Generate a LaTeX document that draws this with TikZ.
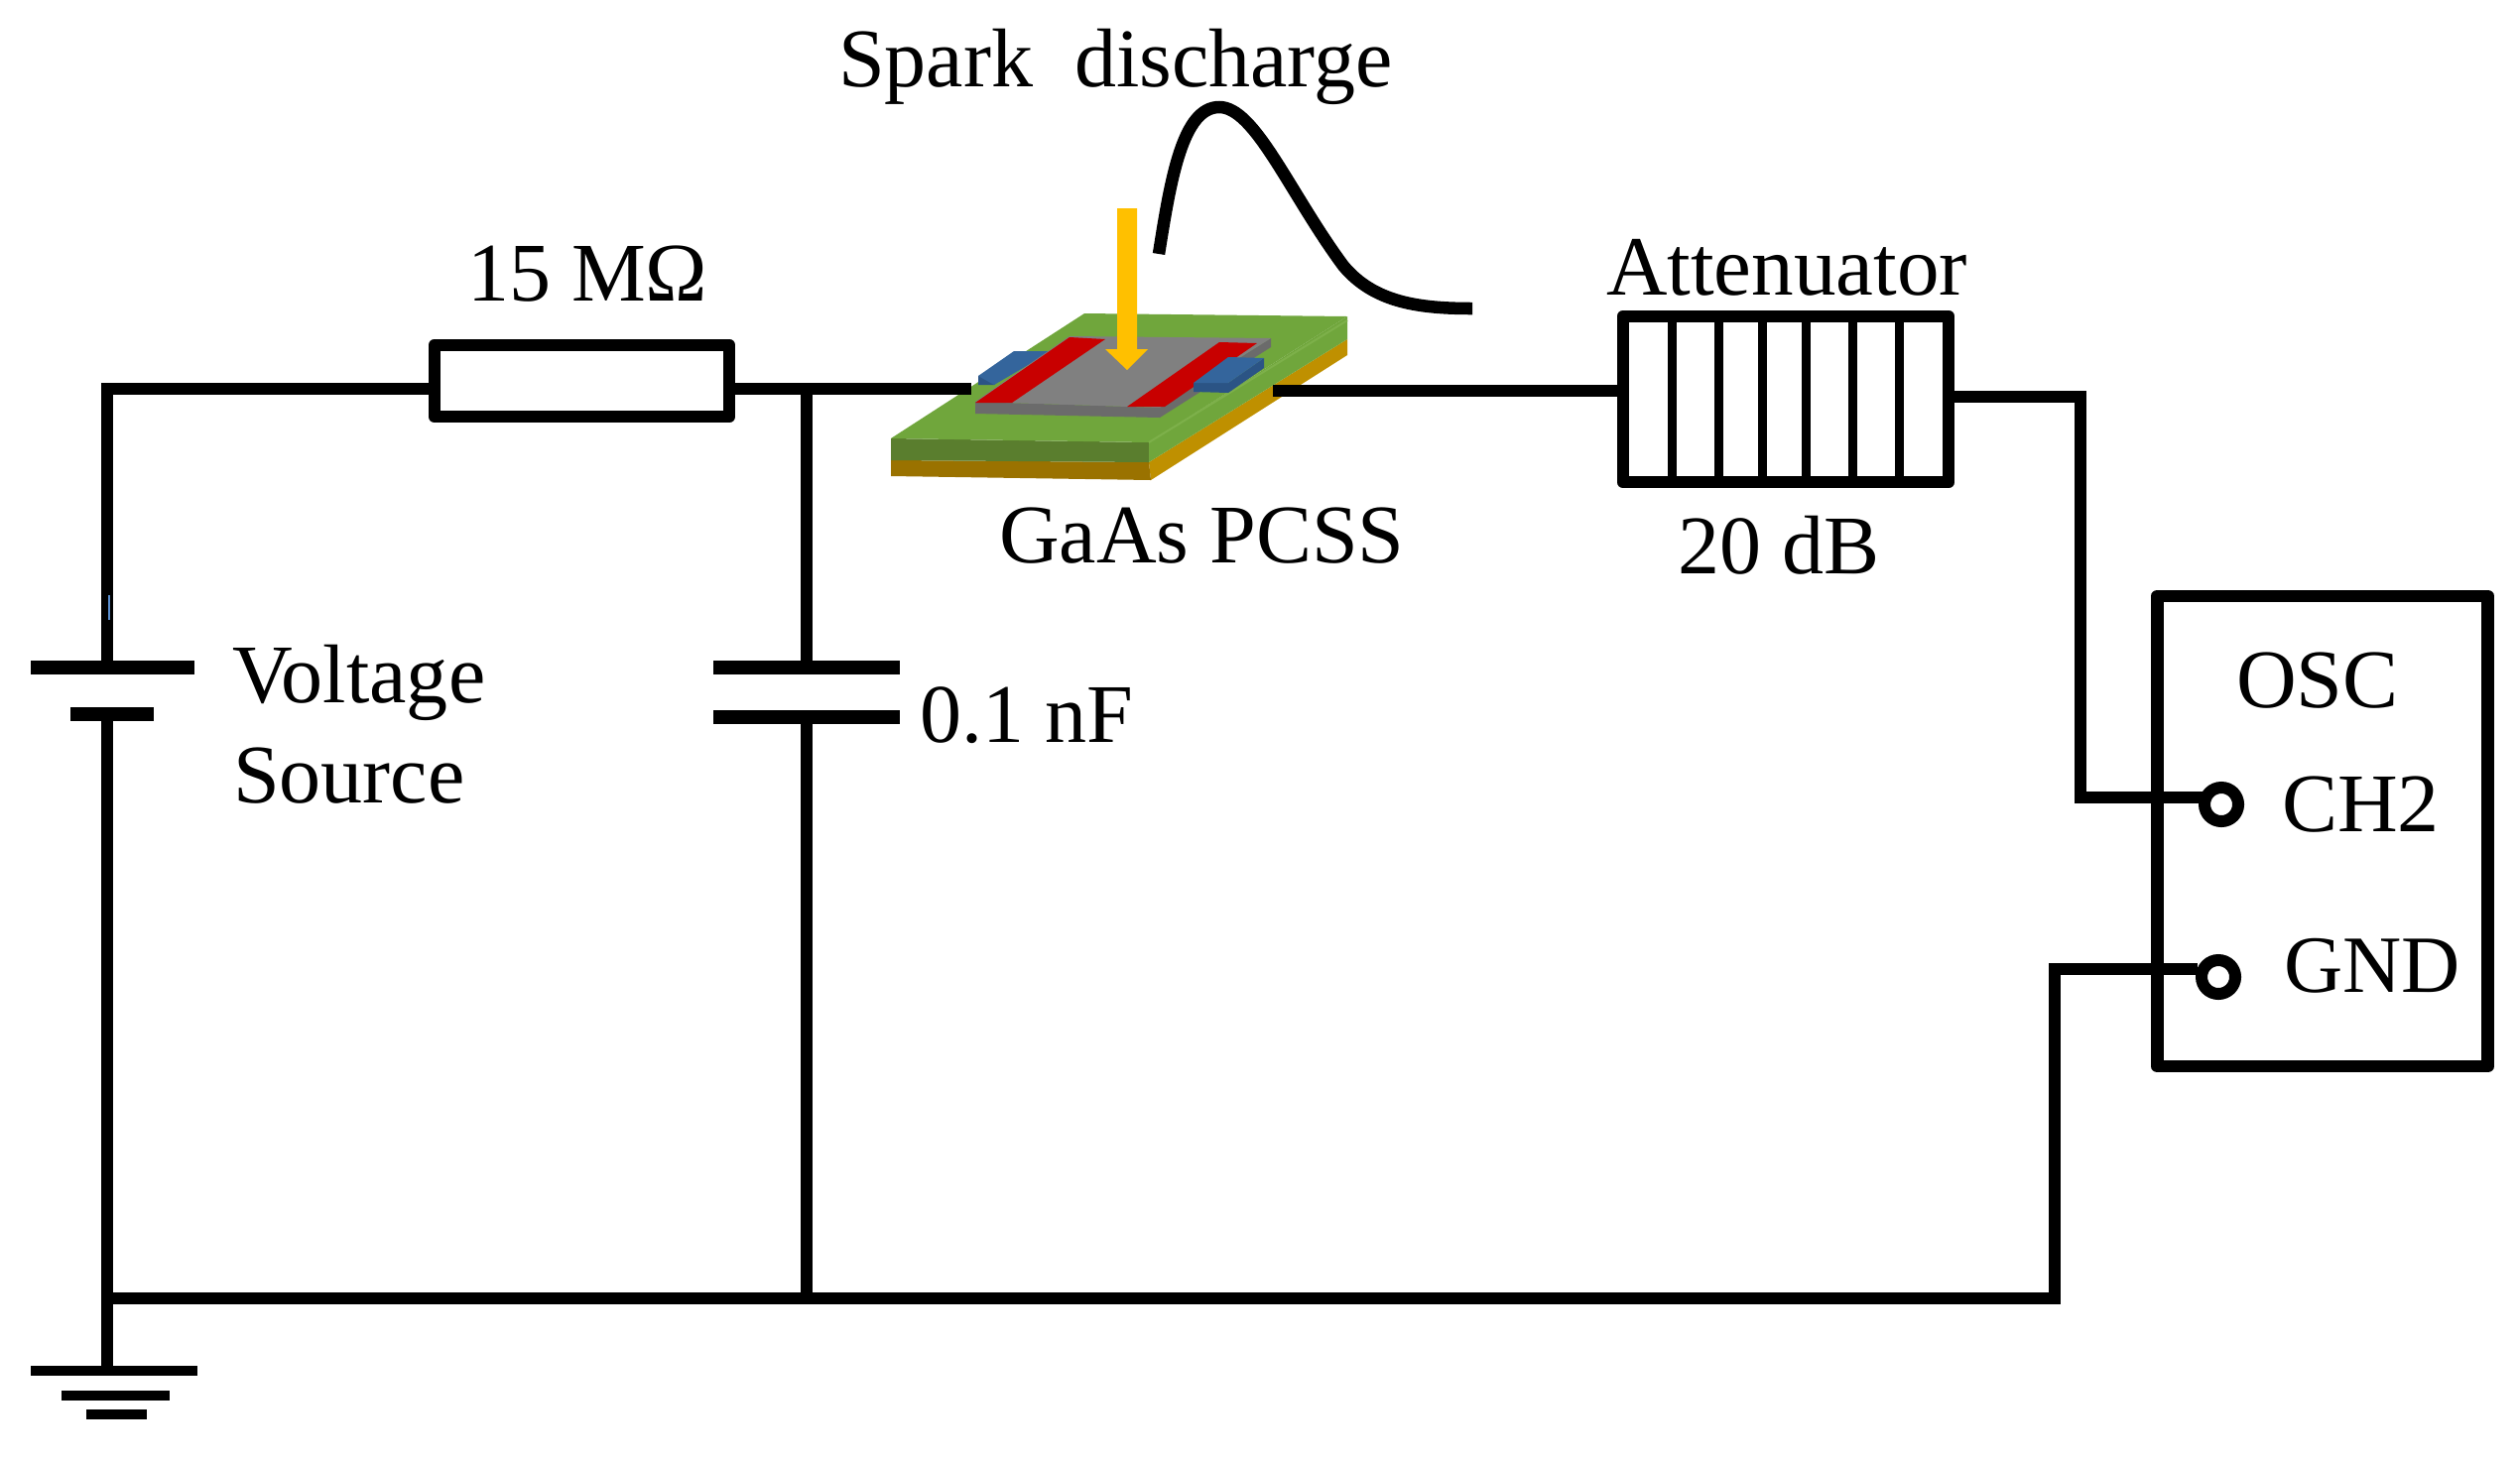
\documentclass[tikz,border=0pt]{standalone}
\usepackage{fontspec}
\setmainfont{Liberation Serif}
\begin{document}
\begin{tikzpicture}[x=0.01cm,y=-0.01cm,
  wire/.style={line width=0.125cm,black},
  plate/.style={line width=0.135cm,black},
  gplate/.style={line width=0.10cm,black},
  box/.style={draw=black,line width=0.125cm,line join=round,inner sep=0pt,outer sep=0pt,rectangle},
  divider/.style={line width=0.09cm,black},
  ring/.style={draw=black,line width=0.12cm,circle,inner sep=0pt,outer sep=0pt,minimum size=0.34cm,fill=white},
  lbl/.style={inner sep=0pt,outer sep=0pt,anchor=base west,font=\fontsize{23.9}{28}\selectfont}]
\useasboundingbox (0,0) rectangle (2540,1475);
\definecolor{ggreen}{HTML}{70A63C}
\definecolor{ggreenL}{HTML}{7DB04A}
\definecolor{ggreenD}{HTML}{5A7E2E}
\definecolor{ggold}{HTML}{BF9000}
\definecolor{ggoldD}{HTML}{9A7200}
\definecolor{ggray}{HTML}{808080}
\definecolor{ggrayD}{HTML}{6B6B6B}
\definecolor{gred}{HTML}{C80000}
\definecolor{gblue}{HTML}{34659C}
\definecolor{gblueD}{HTML}{2B5485}
\definecolor{gyell}{HTML}{FFC000}
\definecolor{gspeck}{HTML}{5B8FD0}

% PCSS chip
\fill[ggold] (1158,466) -- (1358,342) -- (1358,358) -- (1160,484) -- cycle;
\fill[ggoldD] (898,464) -- (1158,466) -- (1160,484) -- (898,480) -- cycle;
\fill[ggreenD] (898,442) -- (1158,446) -- (1158,466) -- (898,464) -- cycle;
\fill[ggreen] (1158,446) -- (1358,319) -- (1358,342) -- (1158,466) -- cycle;
\fill[ggreen] (1093,316) -- (1358,319) -- (1158,446) -- (898,442) -- cycle;
\draw[ggreenL,line width=0.02cm] (1158,446) -- (1358,323);
\fill[gblueD] (986,379) -- (986,388) -- (1002,388) -- (1022,370) -- cycle;
\fill[gblue] (1022,354) -- (1060,354) -- (1002,388) -- (986,379) -- cycle;
\fill[ggrayD] (983,405) -- (1169,411) -- (1281,341) -- (1281,350) -- (1169,421) -- (983,417) -- cycle;
\fill[ggray] (1078,339) -- (1281,341) -- (1169,411) -- (983,405) -- cycle;
\fill[gred] (1078,340) -- (1114,342) -- (1020,406) -- (983,406) -- cycle;
\fill[gred] (1229,345) -- (1267,346) -- (1174,410) -- (1136,410) -- cycle;
\fill[gblueD] (1203,386) -- (1203,395) -- (1238,396) -- (1274,371) -- (1274,361) -- (1238,386) -- cycle;
\fill[gblue] (1238,360) -- (1274,361) -- (1238,386) -- (1203,386) -- cycle;
\fill[gyell] (1126,210) -- (1146,210) -- (1146,352) -- (1157,352) -- (1136,373) -- (1114,352) -- (1126,352) -- cycle;

% pulse
\draw[wire] (1168,256) .. controls (1180,180) and (1192,108) .. (1229,108)
  .. controls (1265,108) and (1300,195) .. (1354,268)
  .. controls (1385,305) and (1430,311) .. (1484,311);

% anchors of the connectors
\coordinate (corner) at (108,392);
\coordinate (batTop) at (108,673);
\coordinate (batBot) at (108,720);
\coordinate (batTL) at (31,673);
\coordinate (batTR) at (196,673);
\coordinate (batBL) at (71,720);
\coordinate (batBR) at (155,720);
\coordinate (gndNode) at (108,1309);
\coordinate (gp1) at (108,1382);
\coordinate (gp1L) at (31,1382);
\coordinate (gp1R) at (199,1382);
\coordinate (gp2L) at (62,1407);
\coordinate (gp2R) at (171,1407);
\coordinate (gp3L) at (87,1426);
\coordinate (gp3R) at (148,1426);
\coordinate (jTop) at (813,392);
\coordinate (capTop) at (813,673);
\coordinate (capBot) at (813,723);
\coordinate (capTL) at (719,673);
\coordinate (capTR) at (907,673);
\coordinate (capBL) at (719,723);
\coordinate (capBR) at (907,723);
\coordinate (jBot) at (813,1309);
\coordinate (pcssL) at (979,392);
\coordinate (pcssR) at (1283,394);
\coordinate (attL) at (1635,394);
\coordinate (attR) at (1967,400);
\coordinate (bend1) at (2097,400);
\coordinate (bend2) at (2097,804);
\coordinate (bend3) at (2071,977);
\coordinate (bend4) at (2071,1309);

\node[box,minimum width=3.28cm,minimum height=1.67cm] (att) at (1800,402.5) {};
\node[box,minimum width=3.33cm,minimum height=4.74cm] (osc) at (2341,838) {};
\node[box,minimum width=2.97cm,minimum height=0.72cm] (res) at (586.5,384) {};

% wires
\draw[wire] (batTop) -- (corner) -- (res.west |- corner);
\draw[wire] (res.east |- jTop) -- (pcssL);
\draw[wire] (jTop) -- (capTop);
\draw[wire] (capBot) -- (jBot);
\draw[wire] (batBot) -- (gp1);
\draw[wire] (gndNode) -- (bend4) -- (bend3) -- (2215,977);
\draw[wire] (pcssR) -- (attL);
\draw[wire] (attR) -- (bend1) -- (bend2) -- (2220,804);

\node[ring] (ch2) at (2239,811) {};
\node[ring] (gnd) at (2236,985) {};

% plates
\draw[plate] (batTL) -- (batTR);
\draw[plate] (batBL) -- (batBR);
\draw[plate] (capTL) -- (capTR);
\draw[plate] (capBL) -- (capBR);
\draw[gplate] (gp1L) -- (gp1R);
\draw[gplate] (gp2L) -- (gp2R);
\draw[gplate] (gp3L) -- (gp3R);
\draw[line width=0.02cm,color=gspeck] (110,600) -- (110,625);

% attenuator dividers
\foreach \x in {1685,1732,1776,1820,1867,1914}
  \draw[divider] (\x,320) -- (\x,485);

% labels
\node[lbl] (spark) at (845,87) {Spark\ \ discharge};
\node[lbl] (rlab) at (471,303) {15 MΩ};
\node[lbl,font=\fontsize{24.2}{28}\selectfont] (atlab) at (1619,297) {Attenuator};
\node[lbl] (dblab) at (1691,578) {20 dB};
\node[lbl] (gaas) at (1007,567) {GaAs PCSS};
\node[lbl] (osclab) at (2254,713) {OSC};
\node[lbl] (chlab) at (2300,838) {CH2};
\node[lbl,font=\fontsize{23.3}{28}\selectfont] (gndlab) at (2302,1000) {GND};
\node[lbl] (vlab) at (234,708) {Voltage};
\node[lbl] (slab) at (235,809) {Source};
\node[lbl] (clab) at (927,748) {0.1 nF};
\end{tikzpicture}
\end{document}
